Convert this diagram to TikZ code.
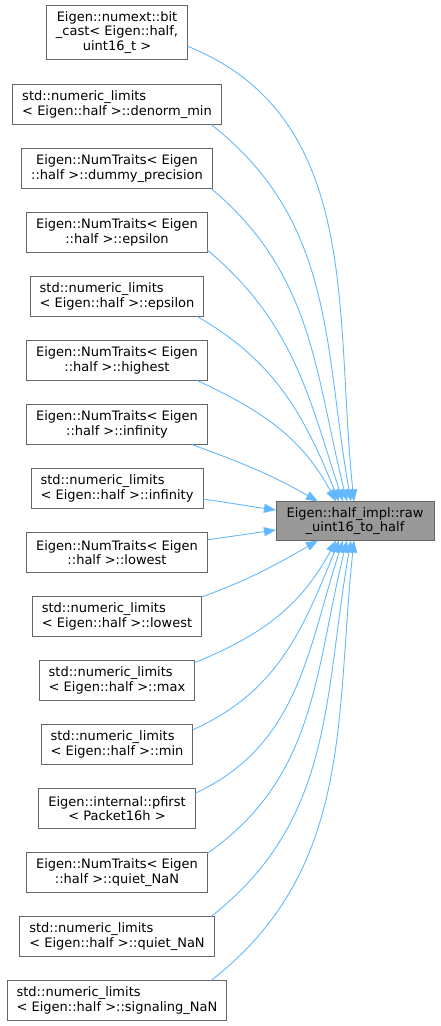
\documentclass[tikz,border=0pt]{standalone}
\usepackage{fontspec}
\setmainfont{DejaVu Sans}
\usepackage{tikz}
\usepackage{xcolor}
\usetikzlibrary{arrows.meta,positioning}
\definecolor{boxline}{RGB}{102,102,102}
\definecolor{boxfill}{RGB}{153,153,153}
\definecolor{calledge}{RGB}{99,184,255}

\begin{document}
\begin{tikzpicture}[x=1pt,y=1pt,>={Triangle[length=12pt,width=9pt]},
  caller/.style={draw=boxline,line width=0.9pt,fill=white,inner xsep=9.5pt,inner ysep=0pt,
    outer sep=0pt,minimum height=40pt,align=center,font=\fontsize{13pt}{14.5pt}\selectfont},
  callerl/.style={caller,align=left},
  callee/.style={caller,fill=boxfill,minimum width=158pt,minimum height=39pt},
  calls/.style={->,calledge,line width=0.9pt},
  node distance=24pt]
  \useasboundingbox (0,0) rectangle (440,-1026);
  \node[caller,minimum height=54pt] (bitcast) at (117,-32.5)
    {Eigen::numext::bit\\\_cast< Eigen::half,\\uint16\_t >};
  \node[callerl,below=25pt of bitcast] (denormmin)
    {std::numeric\_limits\\< Eigen::half >::denorm\_min};
  \node[caller,below=of denormmin] (dummyprec)
    {Eigen::NumTraits< Eigen\\::half >::dummy\_precision};
  \node[caller,below=of dummyprec] (ntepsilon)
    {Eigen::NumTraits< Eigen\\::half >::epsilon};
  \node[callerl,below=of ntepsilon] (stdepsilon)
    {std::numeric\_limits\\< Eigen::half >::epsilon};
  \node[caller,below=of stdepsilon] (nthighest)
    {Eigen::NumTraits< Eigen\\::half >::highest};
  \node[caller,below=of nthighest] (ntinfinity)
    {Eigen::NumTraits< Eigen\\::half >::infinity};
  \node[callerl,below=of ntinfinity] (stdinfinity)
    {std::numeric\_limits\\< Eigen::half >::infinity};
  \node[caller,below=of stdinfinity] (ntlowest)
    {Eigen::NumTraits< Eigen\\::half >::lowest};
  \node[callerl,below=of ntlowest] (stdlowest)
    {std::numeric\_limits\\< Eigen::half >::lowest};
  \node[callerl,below=of stdlowest] (stdmax)
    {std::numeric\_limits\\< Eigen::half >::max};
  \node[callerl,below=of stdmax] (stdmin)
    {std::numeric\_limits\\< Eigen::half >::min};
  \node[caller,below=of stdmin] (pfirst)
    {Eigen::internal::pfirst\\< Packet16h >};
  \node[caller,below=of pfirst] (ntquietnan)
    {Eigen::NumTraits< Eigen\\::half >::quiet\_NaN};
  \node[callerl,below=of ntquietnan] (stdquietnan)
    {std::numeric\_limits\\< Eigen::half >::quiet\_NaN};
  \node[callerl,below=of stdquietnan] (signalingnan)
    {std::numeric\_limits\\< Eigen::half >::signaling\_NaN};
  \node[callee] (rawtohalf) at (355,-521) {Eigen::half\_impl::raw\\\_uint16\_to\_half};
  \draw[calls] (bitcast.-11) to[out=-22,in=96] ([xshift=-1pt]rawtohalf.north);
  \draw[calls] (denormmin.-12) to[out=-38,in=100] ([xshift=-4pt]rawtohalf.north);
  \draw[calls] (dummyprec.-12) to[out=-40,in=104] ([xshift=-8pt]rawtohalf.north);
  \draw[calls] (ntepsilon.-11) to[out=-40,in=108] ([xshift=-12pt]rawtohalf.north);
  \draw[calls] (stdepsilon.-14) to[out=-30,in=112] ([xshift=-16pt]rawtohalf.north);
  \draw[calls] (nthighest.-14) to[out=-25,in=118] ([xshift=-19pt]rawtohalf.north);
  \draw[calls] (ntinfinity.-15) to[out=-20,in=150] ([xshift=-37pt]rawtohalf.north);
  \draw[calls] (stdinfinity.-7) to[out=-8,in=172] ([yshift=11pt]rawtohalf.west);
  \draw[calls] (ntlowest.8) to[out=8,in=-172] ([yshift=-9pt]rawtohalf.west);
  \draw[calls] (stdlowest.13) to[out=20,in=-150] ([xshift=-37pt]rawtohalf.south);
  \draw[calls] (stdmax.13) to[out=22,in=-118] ([xshift=-19pt]rawtohalf.south);
  \draw[calls] (stdmin.11) to[out=24,in=-112] ([xshift=-16pt]rawtohalf.south);
  \draw[calls] (pfirst.11) to[out=25,in=-108] ([xshift=-12pt]rawtohalf.south);
  \draw[calls] (ntquietnan.12) to[out=35,in=-104] ([xshift=-8pt]rawtohalf.south);
  \draw[calls] (stdquietnan.12) to[out=38,in=-100] ([xshift=-4pt]rawtohalf.south);
  \draw[calls] (signalingnan.12) to[out=38,in=-96] ([xshift=-1pt]rawtohalf.south);
\end{tikzpicture}
\end{document}
